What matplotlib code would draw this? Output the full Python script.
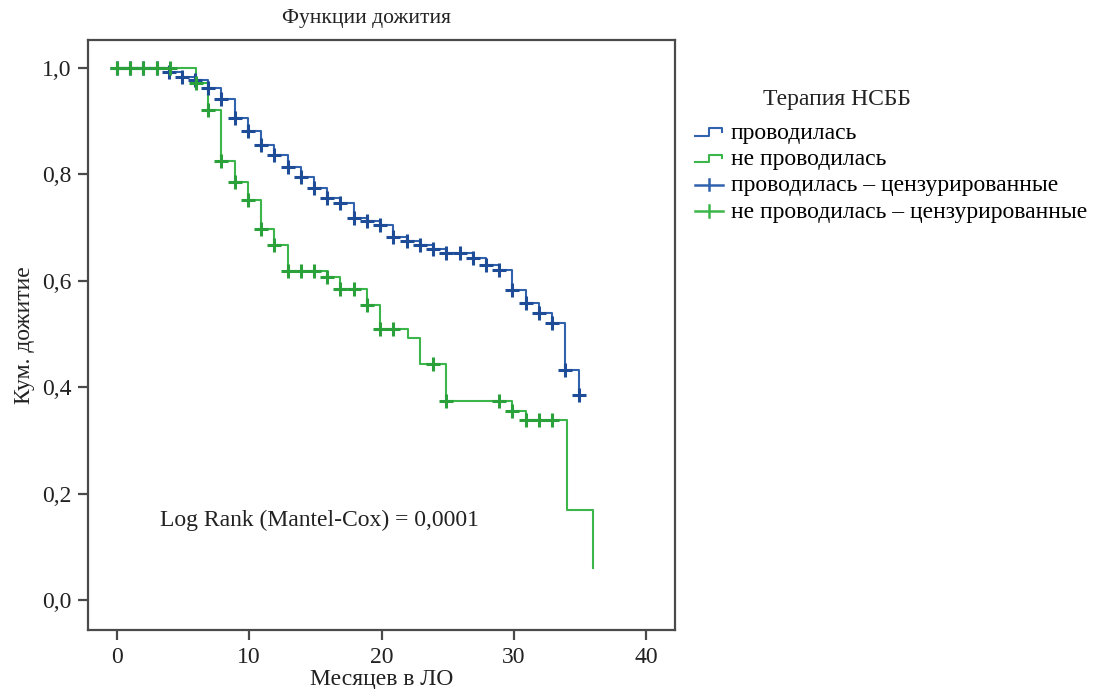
import numpy as np
import matplotlib
matplotlib.use("Agg")
import matplotlib.pyplot as plt
from matplotlib.legend_handler import HandlerBase
from matplotlib.lines import Line2D

plt.rcParams['font.family'] = ['Liberation Serif', 'DejaVu Serif']

# ---- data ----
# group "проводилась" (blue)
blue_t = [0, 3.9, 4.9, 5.9, 6.9, 7.9, 8.9, 9.9, 10.9, 11.9, 12.9, 13.9, 14.9, 15.9, 16.9,
          17.9, 18.9, 19.9, 20.9, 21.9, 22.9, 23.9, 24.9, 26.9, 27.9, 28.9, 29.9, 30.9,
          31.9, 32.9, 33.9, 34.9]
blue_s = [1.0, 0.992, 0.983, 0.977, 0.962, 0.942, 0.906, 0.882, 0.855, 0.836, 0.814, 0.795,
          0.774, 0.756, 0.746, 0.718, 0.712, 0.705, 0.682, 0.675, 0.667, 0.660, 0.652, 0.642,
          0.630, 0.620, 0.583, 0.558, 0.540, 0.520, 0.433, 0.385]
blue_cens = [0, 1, 2, 3, 3.9, 4.9, 5.9, 6.9, 7.9, 8.9, 9.9, 10.9, 11.9, 12.9, 13.9, 14.9, 15.9,
             16.9, 17.9, 18.9, 19.9, 20.9, 21.9, 22.9, 23.9, 24.9, 25.9, 26.9, 27.9, 28.9,
             29.9, 30.9, 31.9, 32.9, 33.9, 34.9]

# group "не проводилась" (green)
green_t = [0, 6.0, 6.9, 7.9, 8.9, 9.9, 10.9, 11.9, 12.9, 15.9, 16.9, 18.9, 19.9, 22.0, 22.9,
           24.9, 29.9, 30.9, 34.0, 36.0]
green_s = [1.0, 0.972, 0.921, 0.825, 0.786, 0.752, 0.697, 0.667, 0.618, 0.607, 0.584, 0.555,
           0.509, 0.492, 0.443, 0.374, 0.355, 0.338, 0.169, 0.060]
green_cens = [0, 1, 2, 3, 4, 6.0, 6.9, 7.9, 8.9, 9.9, 10.9, 11.9, 12.9, 13.9, 14.9, 15.9, 16.9,
              17.9, 18.9, 19.9, 20.9, 23.9, 24.9, 28.9, 29.9, 30.9, 31.9, 32.9]

x_ticks = [0, 10, 20, 30, 40]
y_ticks = [0.0, 0.2, 0.4, 0.6, 0.8, 1.0]
y_ticklabels = ['0,0', '0,2', '0,4', '0,6', '0,8', '1,0']

title = 'Функции дожития'
xlabel = 'Месяцев в ЛО'
ylabel = 'Кум. дожитие'
legend_title = 'Терапия НСББ'
legend_labels = ['проводилась', 'не проводилась',
                 'проводилась – цензурированные', 'не проводилась – цензурированные']
annot = 'Log Rank (Mantel-Cox) = 0,0001'

BLUE = '#3162ad'
BLUE_D = '#1f4c97'
GREEN = '#3cb54a'
GREEN_D = '#2aa13a'
TXT = '#222222'


def step_lookup(t, s, x):
    t = np.asarray(t)
    idx = np.searchsorted(t, x, side='right') - 1
    return np.asarray(s)[idx]


fig = plt.figure(figsize=(10.96, 6.89), dpi=100)
ax = fig.add_axes([88 / 1096, 1 - 630 / 689, (675 - 88) / 1096, (630 - 40) / 689])

# step lines
ax.step(blue_t, blue_s, where='post', color=BLUE, lw=1.5, zorder=2)
ax.step(green_t, green_s, where='post', color=GREEN, lw=1.5, zorder=3)

# censor marks
bc = np.array(blue_cens)
ax.plot(bc, step_lookup(blue_t, blue_s, bc), linestyle='none', marker='+', ms=10, mew=2.2,
        color=BLUE_D, zorder=4)
gc = np.array(green_cens)
ax.plot(gc, step_lookup(green_t, green_s, gc), linestyle='none', marker='+', ms=10, mew=2.2,
        color=GREEN_D, zorder=5)

ax.set_xlim(-2.19, 42.19)
ax.set_ylim(-0.0564, 1.0526)
ax.set_xticks(x_ticks)
ax.set_xticklabels([str(v) for v in x_ticks])
ax.set_yticks(y_ticks)
ax.set_yticklabels(y_ticklabels)

FS = 17
for sp in ax.spines.values():
    sp.set_color('#4a4a4a')
    sp.set_linewidth(1.6)
ax.tick_params(direction='out', length=7, width=1.6, color='#4a4a4a', labelsize=FS,
               labelcolor=TXT, pad=5)

ax.set_xlabel(xlabel, fontsize=FS, color=TXT, labelpad=1)
ax.set_ylabel(ylabel, fontsize=FS, color=TXT, labelpad=5)
fig.text(367 / 1096, 1 - 19 / 689, title, fontsize=15.5, color=TXT, ha='center', va='center')

ax.text(3.25, 0.15, annot, fontsize=FS, color=TXT, ha='left', va='center')


class StepHandler(HandlerBase):
    def create_artists(self, legend, orig_handle, xdescent, ydescent, width, height,
                       fontsize, trans):
        x0 = -xdescent
        y0 = -ydescent
        xs = [x0, x0 + 0.5 * width, x0 + 0.5 * width, x0 + 0.97 * width, x0 + 0.97 * width]
        ys = [y0 + 0.2 * height, y0 + 0.2 * height, y0 + 0.64 * height, y0 + 0.64 * height,
              y0 + 0.42 * height]
        ln = Line2D(xs, ys, color=orig_handle.get_color(), lw=1.5)
        ln.set_transform(trans)
        return [ln]


class CrossHandler(HandlerBase):
    def create_artists(self, legend, orig_handle, xdescent, ydescent, width, height,
                       fontsize, trans):
        x0 = -xdescent
        y0 = -ydescent
        c = orig_handle.get_color()
        ym = y0 + 0.42 * height
        hl = Line2D([x0, x0 + width], [ym, ym], color=c, lw=1.8)
        xm = x0 + 0.5 * width
        vl = Line2D([xm, xm], [ym - 0.35 * height, ym + 0.35 * height], color=c, lw=1.8)
        hl.set_transform(trans)
        vl.set_transform(trans)
        return [hl, vl]


h1 = Line2D([], [], color=BLUE)
h2 = Line2D([], [], color=GREEN)
h3 = Line2D([], [], color=BLUE)
h4 = Line2D([], [], color=GREEN)

fig.legend([h1, h2, h3, h4], legend_labels, loc='upper left',
           bbox_to_anchor=(686 / 1096, 1 - 113 / 689), frameon=False, fontsize=FS,
           handlelength=1.15, handletextpad=0.35, labelspacing=0.2, borderaxespad=0,
           handler_map={h1: StepHandler(), h2: StepHandler(),
                        h3: CrossHandler(), h4: CrossHandler()})

fig.text(837 / 1096, 1 - 100 / 689, legend_title, fontsize=FS, color=TXT,
         ha='center', va='center')

fig.savefig('out.png', dpi=100, facecolor='white')
